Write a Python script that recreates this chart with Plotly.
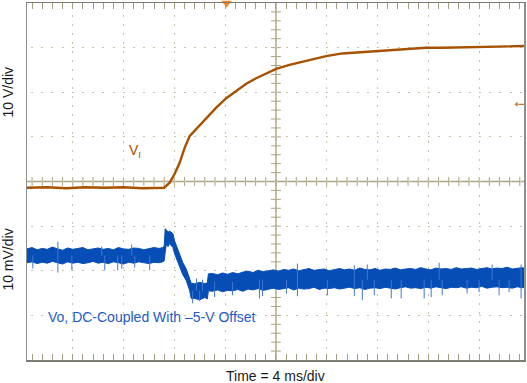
import math
import plotly.graph_objects as go

# ---------------- data ----------------
# Input voltage V_I (volts) vs time (ms, 0 = screen centre)
VI_T = [-19.6, -18.0, -16.5, -15.0, -13.5, -12.0, -10.5, -9.5, -8.8, -8.37, -7.98, -7.58,
        -7.19, -6.80, -6.41, -6.01, -5.62, -5.23, -4.70, -3.91, -3.13, -2.34, -1.56, -0.77,
        0.02, 1.06, 2.11, 3.16, 3.95, 5.23, 6.56, 7.88, 9.16, 10.49, 11.81, 13.09, 14.42,
        15.74, 17.02, 18.3, 19.53]
VI_V = [-0.4, -0.3, -0.5, -0.3, -0.4, -0.3, -0.5, -0.4, -0.4, 0.74, 2.67, 5.19,
        8.53, 11.14, 12.35, 13.47, 14.86, 16.07, 17.55, 19.67, 21.27, 22.92, 24.13, 25.25,
        26.23, 27.12, 27.85, 28.56, 29.09, 29.70, 29.98, 30.24, 30.46, 30.82, 30.97, 30.97, 31.04,
        31.13, 31.2, 31.3, 31.35]

# Output voltage deviation Vo (mV): noise band upper / lower envelope
VO_T = [-19.6, -19.2, -18.8, -18.4, -18.0, -17.6, -17.2, -16.8, -16.4, -16.0, -15.6, -15.2,
        -14.8, -14.4, -14.0, -13.6, -13.2, -12.8, -12.4, -12.0, -11.6, -11.2, -10.8, -10.4,
        -10.0, -9.6, -9.2,
        -8.92, -8.80, -8.72, -8.63, -8.50, -8.37, -8.24, -8.11, -7.98, -7.84, -7.58, -7.33,
        -7.06, -6.80, -6.67, -6.40, -6.00, -5.60, -5.40, -5.32,
        -5.0, -4.6, -4.2, -3.8, -3.4, -3.0, -2.6, -2.2, -1.8, -1.4, -1.0, -0.6, -0.2, 0.2,
        0.6, 1.0, 1.4, 1.8, 2.2, 2.6, 3.0, 3.4, 3.8, 4.2, 4.6, 5.0, 5.4, 5.8, 6.2, 6.6,
        7.0, 7.4, 7.8, 8.2, 8.6, 9.0, 9.4, 9.8, 10.2, 10.6, 11.0, 11.4, 11.8, 12.2, 12.6,
        13.0, 13.4, 13.8, 14.2, 14.6, 15.0, 15.4, 15.8, 16.2, 16.6, 17.0, 17.4, 17.8, 18.2,
        18.6, 19.0, 19.4, 19.53]
VO_HI = [1.9, 2.2, 1.7, 2.0, 1.8, 2.3, 1.9, 1.6, 2.1, 1.8, 2.0, 2.2,
         1.7, 1.9, 2.1, 1.8, 2.0, 1.7, 2.2, 1.9, 1.8, 2.1, 2.0, 1.7,
         1.9, 2.2, 2.0,
         2.2, 2.5, 6.4, 6.2, 5.6, 5.9, 5.5, 5.3, 3.7, 2.6, 0.8, -1.2,
         -2.6, -4.6, -5.8, -5.9, -5.6, -5.9, -5.7, -3.7,
         -3.6, -3.9, -3.5, -3.8, -3.4, -3.7, -3.3, -3.1, -3.4, -2.9, -3.2, -3.0, -2.8, -3.1,
         -2.7, -2.9, -2.6, -3.0, -2.8, -2.5, -2.9, -2.7, -2.6, -3.0, -2.7, -2.5, -2.8, -2.6, -2.9, -2.4,
         -2.7, -2.8, -2.5, -2.9, -2.6, -2.7, -2.4, -2.8, -2.6, -2.5, -2.7, -2.3, -2.6, -2.8, -2.4,
         -2.6, -2.5, -2.7, -2.3, -2.6, -2.5, -2.4, -2.7, -2.5, -2.3, -2.6, -2.4, -2.5, -2.2,
         -2.6, -2.4, -2.3, -2.4]
VO_LO = [-1.2, -1.0, -1.4, -1.1, -1.3, -0.9, -1.2, -1.5, -1.0, -1.3, -1.1, -1.4,
         -1.2, -0.9, -1.3, -1.1, -1.4, -1.0, -1.2, -1.5, -1.1, -1.3, -1.0, -1.2,
         -1.4, -1.1, -1.2,
         -1.0, -0.8, 1.1, 3.0, 2.4, 3.1, 2.6, 2.2, 0.8, -0.3, -2.3, -3.9,
         -5.2, -7.4, -9.2, -9.2, -9.5, -9.0, -9.3, -7.5,
         -7.6, -7.3, -7.7, -7.4, -7.5, -7.2, -7.6, -7.1, -7.3, -7.0, -7.4, -7.1, -6.9, -7.2,
         -7.0, -6.8, -7.3, -6.9, -7.1, -7.0, -6.7, -7.2, -6.9, -7.0, -6.8, -7.1, -6.9, -6.7, -7.0, -6.8,
         -7.2, -6.9, -6.8, -7.0, -6.7, -6.9, -7.1, -6.8, -6.6, -6.9, -6.8, -7.0, -6.7, -6.9, -6.6,
         -6.8, -7.0, -6.7, -6.8, -6.6, -6.9, -6.7, -6.8, -6.5, -6.9, -6.7, -6.6, -6.8, -6.7,
         -6.9, -6.6, -6.8, -6.7]

# Vo noise spikes: time, start value, end value (mV)
SPK_T = [-19.14, -17.17, -17.17, -16.07, -13.72, -13.48, -12.46, -12.14, -11.36, -11.12, -9.94,
         -6.56, -6.25, -6.01, -5.78, -4.83, -3.42, -1.30, -1.06, 0.83, 1.69, 1.69, 4.05,
         6.17, 6.17, 6.80, 7.19, 7.74, 9.08, 9.86, 11.67, 12.22, 12.85, 13.09, 15.05, 15.99,
         17.02, 17.57, 18.36, 19.30, 19.30]
SPK_A = [0.4, 0.4, 0.4, 0.4, 0.4, 0.4, 0.4, 0.4, 0.4, 0.4, 0.4,
         -7.5, -7.5, -7.5, -7.5, -5.5, -5.5, -5.0, -5.0, -5.0, -5.0, -5.0, -5.0,
         -5.0, -5.0, -5.0, -5.0, -5.0, -5.0, -5.0, -5.0, -5.0, -5.0, -5.0, -5.0, -5.0,
         -5.0, -5.0, -5.0, -5.0, -5.0]
SPK_B = [-2.5, 3.5, -3.4, -2.9, 2.4, -2.9, -2.9, -2.5, 2.85, -2.3, -2.9,
         -10.3, -4.7, -9.8, -5.0, -8.9, -8.5, -9.2, -8.7, -8.1, -8.7, -1.4, -8.5,
         -8.7, -1.8, -9.6, -1.6, -8.5, -9.2, -9.2, -9.2, -8.9, -1.2, -8.5, -8.1, -7.8,
         -1.6, -8.5, -7.8, -1.6, -9.2]

# scope settings
T_RANGE = [-19.6, 19.53]      # ms  (4 ms/div)
VI_RANGE = [-39, 41]          # V   (10 V/div)
VO_RANGE = [-23, 57]          # mV  (10 mV/div)
TRIG_T = -3.89
TRIG_LEVEL = 18.3

# ---------------- styling ----------------
W, H = 527, 383
ML, MR, MT, MB = 27, 2, 1, 23
PW, PH = W - ML - MR, H - MT - MB
FONT = "Liberation Sans, Arial, sans-serif"
ORANGE = "#A65200"
BLUE = "#064EB6"
GRID = "#C9C2A6"
CROSS = "#ADA585"

px_per_ms = PW / (T_RANGE[1] - T_RANGE[0])
px_per_v = PH / (VI_RANGE[1] - VI_RANGE[0])
# dotted grid aligned on the 1/5-division positions
p_x = 0.8 * px_per_ms
first = math.ceil(T_RANGE[0] / 0.8) * 0.8
a_x = (first - T_RANGE[0]) * px_per_ms
ydash = f"0px,{a_x-1:.3f}px,2px,{p_x-a_x-1:.3f}px"
p_y = 2 * px_per_v
xdash = f"0px,{p_y/2-1:.3f}px,2px,{p_y/2-1:.3f}px"

fig = go.Figure()

# Vo band
fig.add_trace(go.Scatter(x=VO_T, y=VO_LO, yaxis="y2", mode="lines",
                         line=dict(color=BLUE, width=1), hoverinfo="skip", showlegend=False))
fig.add_trace(go.Scatter(x=VO_T, y=VO_HI, yaxis="y2", mode="lines", fill="tonexty",
                         fillcolor=BLUE, line=dict(color=BLUE, width=1),
                         hoverinfo="skip", showlegend=False))
sx, sy = [], []
for t, a, b in zip(SPK_T, SPK_A, SPK_B):
    sx += [t, t, None]
    sy += [a, b, None]
fig.add_trace(go.Scatter(x=sx, y=sy, yaxis="y2", mode="lines",
                         line=dict(color="#3F78CF", width=1), hoverinfo="skip", showlegend=False))

# V_I
fig.add_trace(go.Scatter(x=VI_T, y=VI_V, mode="lines",
                         line=dict(color=ORANGE, width=2.4), hoverinfo="skip", showlegend=False))

# trigger position marker (top) and trigger level marker (right)
fig.add_trace(go.Scatter(x=[TRIG_T], y=[VI_RANGE[1]], mode="markers", cliponaxis=False,
                         marker=dict(symbol="triangle-down", size=9, color="#F5821F"),
                         hoverinfo="skip", showlegend=False))
fig.add_trace(go.Scatter(x=[18.95, T_RANGE[1]], y=[TRIG_LEVEL, TRIG_LEVEL], mode="lines+markers",
                         cliponaxis=False, line=dict(color="#B0580A", width=1),
                         marker=dict(symbol="triangle-left", size=[6, 0], color="#B0580A"),
                         hoverinfo="skip", showlegend=False))

# centre cross-hair with 1/5-division ticks
shapes = []
ycen = (VI_RANGE[0] + VI_RANGE[1]) / 2
xfrac = (0 - T_RANGE[0]) / (T_RANGE[1] - T_RANGE[0])
shapes.append(dict(type="line", xref="paper", yref="y", x0=0, x1=1, y0=ycen, y1=ycen,
                   line=dict(color=CROSS, width=1.5), layer="below"))
shapes.append(dict(type="line", xref="x", yref="paper", x0=0, x1=0, y0=0, y1=1,
                   line=dict(color=CROSS, width=1.5), layer="below"))
for k in range(-24, 25):
    t = 0.8 * k
    if T_RANGE[0] < t < T_RANGE[1]:
        shapes.append(dict(type="line", xref="x", yref="paper", x0=t, x1=t,
                           y0=0.5 - 4.5 / PH, y1=0.5 + 4.5 / PH,
                           line=dict(color=CROSS, width=1), layer="below"))
for k in range(-19, 20):
    v = ycen + 2 * k
    shapes.append(dict(type="line", xref="paper", yref="y", x0=xfrac - 5 / PW, x1=xfrac + 5 / PW,
                       y0=v, y1=v, line=dict(color=CROSS, width=1), layer="below"))


def py(px):
    """paper y fraction from a pixel row"""
    return 1 - (px - MT) / PH


annotations = [
    dict(text="10 V/div", xref="paper", yref="paper", x=(8 - ML) / PW, y=py(91),
         xanchor="center", yanchor="middle",
         textangle=-90, showarrow=False, font=dict(family=FONT, size=14, color="#1a1a1a")),
    dict(text="10 mV/div", xref="paper", yref="paper", x=(8 - ML) / PW, y=py(259),
         xanchor="center", yanchor="middle",
         textangle=-90, showarrow=False, font=dict(family=FONT, size=14, color="#1a1a1a")),
    dict(text="Time = 4 ms/div", xref="paper", yref="paper", x=(276 - ML) / PW,
         y=py(376), xanchor="center", yanchor="middle", showarrow=False,
         font=dict(family=FONT, size=14, color="#1a1a1a")),
    dict(text="V<sub>I</sub>", xref="paper", yref="paper", x=(127 - ML) / PW,
         y=py(150), xanchor="left", yanchor="middle", showarrow=False,
         font=dict(family=FONT, size=14, color=ORANGE)),
    dict(text="Vo, DC-Coupled With \u20135-V Offset", xref="paper", yref="paper",
         x=(46 - ML) / PW, y=py(317), xanchor="left", yanchor="middle",
         showarrow=False, font=dict(family=FONT, size=14, color="#1F5CC6")),
]

fig.update_layout(
    width=W, height=H, margin=dict(l=ML, r=MR, t=MT, b=MB),
    paper_bgcolor="white", plot_bgcolor="white",
    showlegend=False, shapes=shapes, annotations=annotations,
    xaxis=dict(range=T_RANGE, showgrid=True, gridcolor=GRID, gridwidth=1.2, griddash=xdash,
               tick0=0, dtick=4, ticks="inside", ticklen=6, tickcolor="#A39C80",
               showticklabels=False, zeroline=False, showline=True, linecolor="#7C7C72",
               linewidth=1.5, mirror="allticks",
               minor=dict(tick0=0, dtick=0.8, ticks="inside", ticklen=4, tickcolor="#A39C80",
                          showgrid=False)),
    yaxis=dict(range=VI_RANGE, showgrid=True, gridcolor=GRID, gridwidth=1.2, griddash=ydash,
               tick0=ycen, dtick=10, ticks="", showticklabels=False, zeroline=False,
               showline=True, linecolor="#8E8E8E", linewidth=1.5, mirror=True),
    yaxis2=dict(range=VO_RANGE, overlaying="y", visible=False),
)

fig.write_html("out.html", config={"staticPlot": True},
               post_script="document.body.style.margin='0px';document.body.style.overflow='hidden';")
